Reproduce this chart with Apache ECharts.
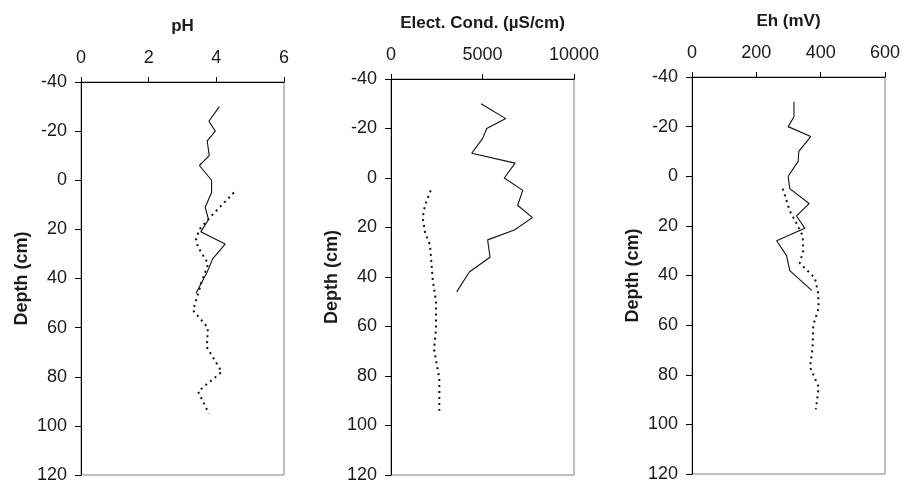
<!DOCTYPE html>
<html>
<head>
<meta charset="utf-8">
<script src="https://cdn.jsdelivr.net/npm/echarts@6/dist/echarts.min.js"></script>
<style>
  html, body { margin: 0; padding: 0; background: #fff; }
  #chart { width: 913px; height: 484px; }
</style>
</head>
<body>
<div id="chart"></div>
<script>
// depth (cm) and measured value for each profile
const phSolidDepth = [-30, -24, -20, -16, -10, -6, 0, 5, 11, 16, 21, 26, 32, 37, 46];
const phSolidValue = [4.09, 3.78, 3.97, 3.73, 3.79, 3.5, 3.86, 3.86, 3.67, 3.77, 3.54, 4.26, 3.89, 3.74, 3.4];
const phDotDepth = [5, 14, 20, 24, 27, 34, 42, 53, 60, 68, 78, 86, 95];
const phDotValue = [4.52, 3.89, 3.5, 3.4, 3.45, 3.76, 3.55, 3.31, 3.75, 3.72, 4.16, 3.46, 3.78];

const ecSolidDepth = [-30, -24, -20, -16, -10, -6, 0, 5, 11, 16, 21, 25, 32, 38, 46];
const ecSolidValue = [4920, 6270, 5230, 5010, 4410, 6780, 6190, 7200, 6920, 7730, 6740, 5280, 5410, 4280, 3590];
const ecDotDepth = [5, 11, 16, 22, 27, 41, 50, 61, 69, 81, 94];
const ecDotValue = [2170, 1860, 1730, 1860, 2130, 2280, 2460, 2460, 2350, 2640, 2640];

const ehSolidDepth = [-30, -24, -20, -16, -10, -6, 0, 5, 11, 16, 21, 26, 32, 38, 46];
const ehSolidValue = [317, 317, 299, 369, 332, 330, 299, 304, 364, 325, 351, 263, 294, 304, 372];
const ehDotDepth = [5, 9, 14, 19, 24, 30, 35, 41, 47, 53, 60, 69, 77, 85, 94];
const ehDotValue = [282, 292, 304, 325, 344, 346, 335, 382, 392, 394, 377, 375, 367, 394, 385];

const panelTitles = ['pH', 'Elect. Cond. (\u00b5S/cm)', 'Eh (mV)'];
const panelMax = [6, 10000, 600];
const panelInterval = [2, 5000, 200];
const depthTicks = { min: -40, max: 120, interval: 20 };

const font = '"Liberation Sans", Arial, Helvetica, sans-serif';

const grids = [
  { left: 81, top: 82, width: 203, height: 393 },
  { left: 391, top: 79, width: 183, height: 398 },
  { left: 692, top: 77, width: 193, height: 397 }
];

function pairs(depths, values) {
  return depths.map((d, i) => [values[i], d]);
}

const chart = echarts.init(document.getElementById('chart'));

const option = {
  backgroundColor: '#fff',
  animation: false,
  grid: grids.map(g => Object.assign({
    show: true,
    borderColor: '#808080',
    borderWidth: 1,
    containLabel: false
  }, g)),
  xAxis: panelTitles.map((t, i) => ({
    gridIndex: i,
    type: 'value',
    position: 'top',
    min: 0,
    max: panelMax[i],
    interval: panelInterval[i],
    name: t,
    nameLocation: 'middle',
    nameGap: 47,
    nameTextStyle: { fontFamily: font, fontSize: 17, fontWeight: 'bold', color: '#1a1a1a' },
    axisLine: { show: true, onZero: false, lineStyle: { color: '#000', width: 1 } },
    axisTick: { show: true, inside: false, length: 5, lineStyle: { color: '#000' } },
    axisLabel: {
      fontFamily: font, fontSize: 18, color: '#1a1a1a', margin: 15,
      formatter: v => String(v)
    },
    splitLine: { show: false }
  })),
  yAxis: panelTitles.map((t, i) => ({
    gridIndex: i,
    type: 'value',
    inverse: true,
    min: depthTicks.min,
    max: depthTicks.max,
    interval: depthTicks.interval,
    name: 'Depth (cm)',
    nameLocation: 'middle',
    nameGap: 50,
    nameTextStyle: { fontFamily: font, fontSize: 18, fontWeight: 'bold', color: '#1a1a1a' },
    axisLine: { show: true, onZero: false, lineStyle: { color: '#000', width: 1 } },
    axisTick: { show: true, inside: false, length: 6, lineStyle: { color: '#000' } },
    axisLabel: { fontFamily: font, fontSize: 18, color: '#1a1a1a', margin: 14 },
    splitLine: { show: false }
  })),
  series: [
    [phSolidDepth, phSolidValue, 0, 'solid'],
    [phDotDepth, phDotValue, 0, 'dot'],
    [ecSolidDepth, ecSolidValue, 1, 'solid'],
    [ecDotDepth, ecDotValue, 1, 'dot'],
    [ehSolidDepth, ehSolidValue, 2, 'solid'],
    [ehDotDepth, ehDotValue, 2, 'dot']
  ].map(([d, v, idx, kind]) => ({
    type: 'line',
    xAxisIndex: idx,
    yAxisIndex: idx,
    data: pairs(d, v),
    showSymbol: false,
    symbol: 'none',
    silent: true,
    lineStyle: kind === 'solid'
      ? { color: '#111', width: 1.1, type: 'solid' }
      : { color: '#111', width: 2, type: [2, 4] }
  }))
};

chart.setOption(option);
</script>
</body>
</html>
